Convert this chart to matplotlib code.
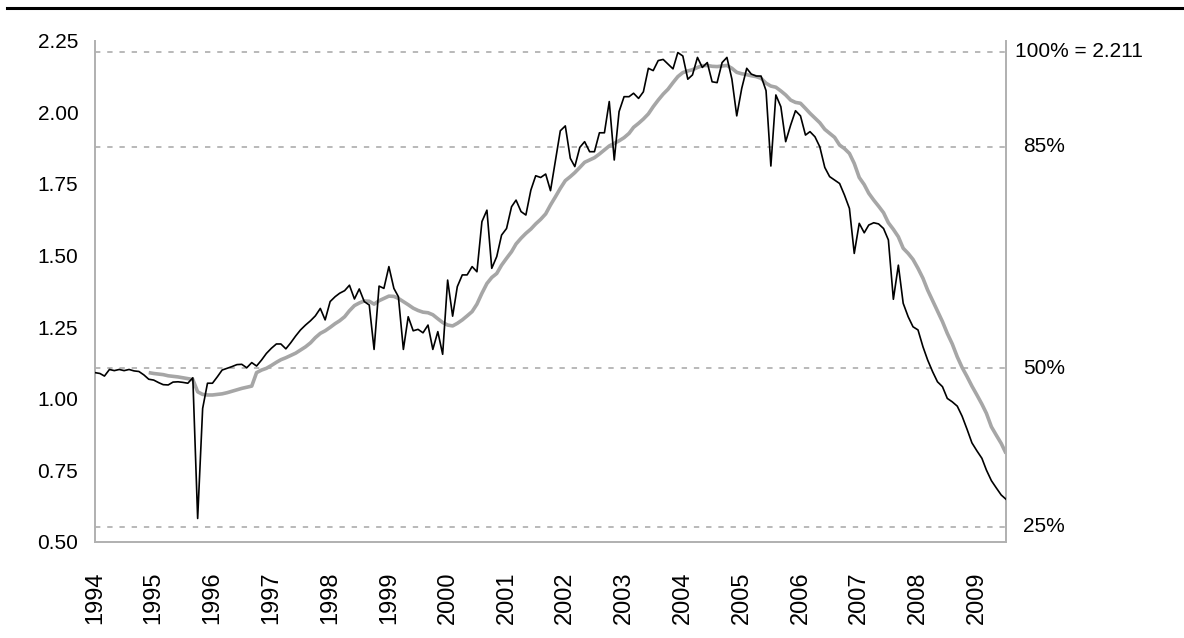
import matplotlib
matplotlib.use("Agg")
import matplotlib.pyplot as plt
from matplotlib.lines import Line2D
import pandas as pd

# monthly values, Jan 1994 .. Jul 2009
monthly = [
    1.091, 1.088, 1.079, 1.102, 1.098, 1.102, 1.098, 1.102, 1.097, 1.095, 1.083, 1.068,  # 1994
    1.065, 1.056, 1.049, 1.048, 1.058, 1.059, 1.057, 1.054, 1.073, 0.582, 0.966, 1.054,  # 1995
    1.054, 1.077, 1.100, 1.106, 1.112, 1.119, 1.120, 1.108, 1.126, 1.114, 1.135, 1.158,  # 1996
    1.176, 1.191, 1.191, 1.174, 1.195, 1.219, 1.240, 1.257, 1.272, 1.289, 1.315, 1.275,  # 1997
    1.339, 1.356, 1.368, 1.377, 1.396, 1.348, 1.383, 1.339, 1.327, 1.172, 1.393, 1.385,  # 1998
    1.461, 1.385, 1.356, 1.172, 1.286, 1.237, 1.242, 1.230, 1.257, 1.172, 1.234, 1.155,  # 1999
    1.414, 1.288, 1.391, 1.432, 1.432, 1.461, 1.443, 1.618, 1.658, 1.455, 1.496, 1.571,  # 2000
    1.594, 1.670, 1.693, 1.653, 1.641, 1.728, 1.778, 1.772, 1.784, 1.726, 1.833, 1.935,  # 2001
    1.952, 1.839, 1.810, 1.877, 1.897, 1.862, 1.862, 1.928, 1.928, 2.037, 1.833, 2.002,  # 2002
    2.054, 2.054, 2.066, 2.048, 2.071, 2.153, 2.145, 2.180, 2.184, 2.168, 2.151, 2.208,  # 2003
    2.196, 2.115, 2.130, 2.191, 2.156, 2.173, 2.106, 2.103, 2.173, 2.191, 2.115, 1.987,  # 2004
    2.083, 2.153, 2.133, 2.126, 2.126, 2.075, 1.812, 2.060, 2.019, 1.897, 1.955, 2.005,  # 2005
    1.987, 1.920, 1.932, 1.914, 1.879, 1.807, 1.775, 1.763, 1.751, 1.711, 1.664, 1.507,  # 2006
    1.612, 1.579, 1.606, 1.614, 1.610, 1.594, 1.554, 1.347, 1.466, 1.333, 1.286, 1.251,  # 2007
    1.240, 1.181, 1.135, 1.094, 1.059, 1.042, 1.001, 0.989, 0.974, 0.939, 0.893, 0.846,  # 2008
    0.818, 0.792, 0.751, 0.714, 0.689, 0.664, 0.649,                                     # 2009
]

# 12-month average, Dec 1994 .. Jul 2009
avg12 = [
    1.091,                                                                               # 1994
    1.088, 1.086, 1.084, 1.080, 1.078, 1.076, 1.073, 1.070, 1.067, 1.024, 1.015, 1.013,  # 1995
    1.013, 1.015, 1.017, 1.021, 1.026, 1.031, 1.036, 1.040, 1.044, 1.091, 1.100, 1.106,  # 1996
    1.116, 1.127, 1.136, 1.143, 1.151, 1.159, 1.170, 1.181, 1.195, 1.213, 1.228, 1.237,  # 1997
    1.249, 1.262, 1.272, 1.286, 1.307, 1.325, 1.334, 1.341, 1.340, 1.330, 1.342, 1.350,  # 1998
    1.358, 1.357, 1.350, 1.339, 1.328, 1.316, 1.308, 1.302, 1.300, 1.293, 1.279, 1.266,  # 1999
    1.257, 1.254, 1.263, 1.275, 1.289, 1.304, 1.330, 1.368, 1.402, 1.423, 1.437, 1.466,  # 2000
    1.490, 1.513, 1.540, 1.560, 1.577, 1.592, 1.610, 1.626, 1.645, 1.676, 1.705, 1.734,  # 2001
    1.761, 1.775, 1.789, 1.807, 1.825, 1.833, 1.841, 1.854, 1.868, 1.882, 1.891, 1.900,  # 2002
    1.911, 1.926, 1.947, 1.961, 1.976, 1.994, 2.019, 2.042, 2.063, 2.080, 2.103, 2.124,  # 2003
    2.138, 2.144, 2.148, 2.156, 2.162, 2.163, 2.160, 2.159, 2.161, 2.163, 2.153, 2.139,  # 2004
    2.134, 2.131, 2.127, 2.124, 2.118, 2.101, 2.091, 2.087, 2.074, 2.060, 2.042, 2.034,  # 2005
    2.031, 2.013, 1.996, 1.979, 1.963, 1.940, 1.926, 1.912, 1.885, 1.873, 1.856, 1.821,  # 2006
    1.772, 1.747, 1.717, 1.693, 1.672, 1.649, 1.614, 1.591, 1.565, 1.525, 1.507, 1.486,  # 2007
    1.455, 1.420, 1.379, 1.342, 1.307, 1.269, 1.228, 1.191, 1.146, 1.109, 1.077, 1.044,  # 2008
    1.013, 0.981, 0.949, 0.902, 0.873, 0.844, 0.809,                                     # 2009
]

peak = 2.211
levels = [1.00, 0.85, 0.50, 0.25]
level_labels = ["100% = 2.211", "85%", "50%", "25%"]
years = list(range(1994, 2010))
yticks = [0.50, 0.75, 1.00, 1.25, 1.50, 1.75, 2.00, 2.25]

plt.rcParams['font.family'] = ['Liberation Sans', 'DejaVu Sans']

months = pd.date_range("1994-01-01", periods=len(monthly), freq="MS")
avg_months = pd.date_range("1994-12-01", periods=len(avg12), freq="MS")

fig = plt.figure(figsize=(11.84, 6.38), dpi=100)
ax = fig.add_axes([0.0802, 0.1505, 0.7695, 0.786])

grey = "#a6a6a6"
for lv in levels:
    ax.axhline(peak * lv, color=grey, lw=1.1, ls=(0, (3.5, 4.5)), zorder=1)

ax.plot(avg_months, avg12, color=grey, lw=2.6, zorder=2, solid_capstyle="butt")
ax.plot(months, monthly, color="black", lw=1.2, zorder=3)

ax.set_xlim(months[0], months[-1])
ax.set_ylim(0.5, 2.25)

ax.set_xticks([pd.Timestamp(f"{y}-01-01") for y in years])
ax.set_xticklabels([str(y) for y in years], rotation=90, fontsize=17)
ax.set_yticks(yticks)
ax.set_yticklabels([f"{v:.2f}" for v in yticks], fontsize=15)
ax.tick_params(axis="x", length=0, pad=21)
ax.tick_params(axis="y", length=0, pad=12)

for side in ("left", "bottom", "right"):
    ax.spines[side].set_color("#b0b0b0")
    ax.spines[side].set_linewidth(1.4)
ax.spines["top"].set_visible(False)

trans = ax.get_yaxis_transform()
for lv, lab in zip(levels, level_labels):
    xoff = 1.0099 if lab.startswith("100") else 1.0187
    ax.text(xoff, peak * lv, lab, transform=trans, ha="left", va="center",
            fontsize=15, clip_on=False)

fig.add_artist(Line2D([7 / 1184, 1.0], [1 - 8 / 638, 1 - 8 / 638],
                      color="black", lw=2.2))

fig.savefig("out.png", dpi=100)
